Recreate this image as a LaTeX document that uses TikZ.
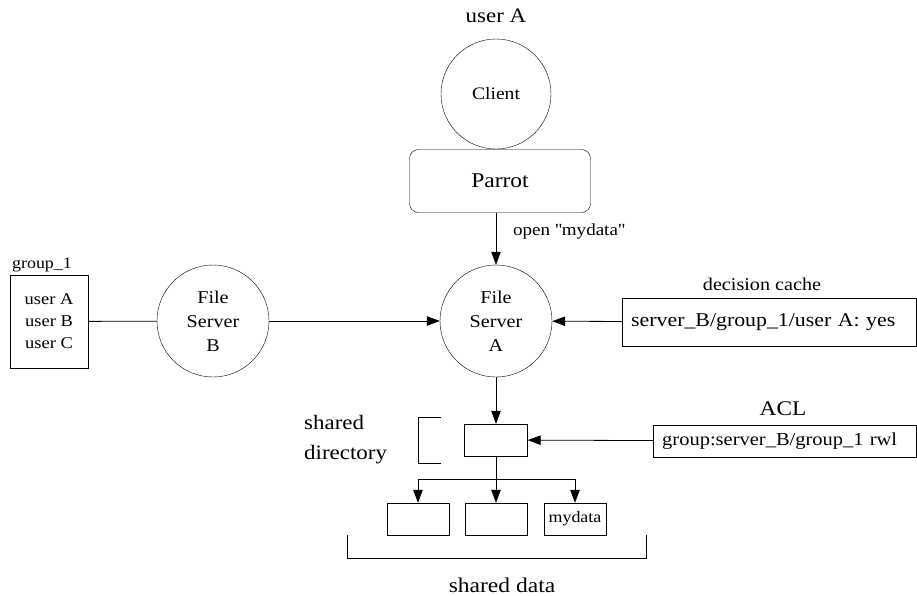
\documentclass[tikz,border=0pt]{standalone}
\usepackage{fontspec}
\setmainfont{Liberation Serif}[FakeStretch=1.12]
\usepackage{tikz}
\usetikzlibrary{arrows.meta}
\newcommand{\fsz}[2]{\fontsize{#1}{#2}\selectfont}

\begin{document}
\begin{tikzpicture}[
  x=1pt, y=-1pt,
  % servers and client
  srv/.style={circle,draw=black,minimum size=112pt,inner sep=0pt,align=center,font=\fsz{18}{24}},
  box/.style={rectangle,draw=black,inner sep=0pt},
  tag/.style={inner sep=0pt},
  line/.style={draw=black,line width=0.8pt},
  arr/.style={line,-{Triangle[length=13pt,width=9.5pt]}}
]
\useasboundingbox (0,0) rectangle (917,595);

\node[tag,font=\fsz{20.5}{24}] (ua) at (496,16) {user A};
\node[srv,minimum size=110pt,font=\fsz{17.5}{20}] (client) at (496,94) {Client};
\node[box,rounded corners=9pt,minimum width=181pt,minimum height=63pt,font=\fsz{21}{24}] (parrot) at (500,181) {Parrot};
\node[tag,anchor=west,font=\fsz{17}{20}] (lopen) at (513,231) {open \textquotedbl mydata\textquotedbl};

\node[srv] (fsa) at (496,321) {File\\Server\\A};  % middle
\node[srv] (fsb) at (213,321) {File\\Server\\B};  % left

% group members
\node[box,minimum width=78pt,minimum height=93pt,align=center,font=\fsz{16.5}{22}] (grp) at (49,321.5) {user A\\user B\\user C};
\node[tag,font=\fsz{16}{18}] (grplbl) at (42,265) {group\_1};

% decision cache
\node[box,anchor=west,text width=276pt,inner xsep=9pt,minimum height=48pt,align=left,font=\fsz{19.5}{22}] (cache) at (622,322) {server\_B/group\_1/user A: yes};
\node[tag,font=\fsz{18}{20}] (cachelbl) at (762,284) {decision cache};

% shared directory and its entries
\node[box,minimum width=63pt,minimum height=32pt] (dir) at (496,440) {};
\node[tag,anchor=west,align=left,font=\fsz{20.5}{30}] (dirlbl) at (304,440) {shared\\directory};
\draw[line] (441,417) -- (418,417) -- (418,463) -- (441,463);

\node[box,anchor=west,text width=245pt,inner xsep=9pt,minimum height=32pt,align=left,font=\fsz{18.3}{20}] (acl) at (653,441) {group:server\_B/group\_1 rwl};
\node[tag,font=\fsz{20.8}{24}] (acllbl) at (783,409) {ACL};

\node[box,minimum width=62pt,minimum height=32pt] (d1) at (418,519) {};
\node[box,minimum width=62pt,minimum height=32pt] (d2) at (496,519) {};
\node[box,minimum width=62pt,minimum height=32pt,font=\fsz{16}{18}] (d3) at (575,519) {mydata};
\coordinate (fork) at (496,479);

\draw[line] (347,535) -- (347,558) -- (646,558) -- (646,535);
\node[tag,font=\fsz{21}{24}] (datalbl) at (502,585) {shared data};

% edges
\draw[arr] (parrot.south -| fsa) -- (fsa);
\draw[line] (grp) -- (fsb);
\draw[arr] (fsb) -- (fsa);
\draw[arr] (cache) -- (fsa);
\draw[arr] (fsa) -- (dir);
\draw[arr] (acl) -- (dir);
\draw[line] (dir) -- (fork);
\draw[line] (fork -| d1) -- (fork -| d3);
\draw[arr] (fork -| d1) -- (d1);
\draw[arr] (fork) -- (d2);
\draw[arr] (fork -| d3) -- (d3);

\end{tikzpicture}
\end{document}
